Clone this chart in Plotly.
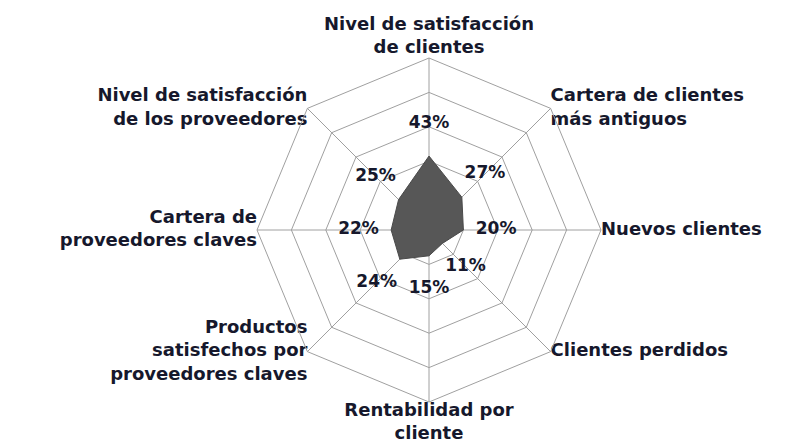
import plotly.graph_objects as go

categorias = [
    "Nivel de satisfacción<br>de clientes",
    "Cartera de clientes<br>más antiguos",
    "Nuevos clientes",
    "Clientes perdidos",
    "Rentabilidad por<br>cliente",
    "Productos<br>satisfechos por<br>proveedores claves",
    "Cartera de<br>proveedores claves",
    "Nivel de satisfacción<br>de los proveedores",
]
valores = [0.43, 0.27, 0.20, 0.11, 0.15, 0.24, 0.22, 0.25]
etiquetas = ["43%", "27%", "20%", "11%", "15%", "24%", "22%", "25%"]

# donde se pone cada nombre de eje respecto al vertice exterior
posicion_nombres = ["top center", "middle right", "middle right", "middle right",
                    "bottom center", "middle left", "middle left", "middle left"]

texto_color = "#16182c"
grid_color = "#a0a0a0"
fuente = "DejaVu Sans"

fig = go.Figure()

# area rellena
fig.add_trace(go.Scatterpolar(
    r=valores + valores[:1],
    theta=categorias + categorias[:1],
    mode="lines",
    fill="toself",
    fillcolor="#575757",
    line=dict(color="#4a4a4a", width=1),
    hoverinfo="skip",
))

# porcentajes, un poco por fuera de cada vertice
fig.add_trace(go.Scatterpolar(
    r=[v + 0.19 for v in valores],
    theta=categorias,
    mode="text",
    text=etiquetas,
    textfont=dict(family=fuente, size=17, color=texto_color, weight="bold"),
    hoverinfo="skip",
))

# nombres de los ejes en el borde exterior
fig.add_trace(go.Scatterpolar(
    r=[1.0] * len(categorias),
    theta=categorias,
    mode="text",
    text=categorias,
    textposition=posicion_nombres,
    textfont=dict(family=fuente, size=18, color=texto_color, weight="bold"),
    cliponaxis=False,
    hoverinfo="skip",
))

# la pagina tiene 8px de margen en el body, se compensa aqui
fig.update_layout(
    width=805, height=446,
    margin=dict(l=92, r=55, t=50, b=52),
    paper_bgcolor="white",
    showlegend=False,
    polar=dict(
        bgcolor="white",
        gridshape="linear",
        radialaxis=dict(
            range=[0, 1], dtick=0.2, showticklabels=False, ticks="",
            showline=False, gridcolor=grid_color, gridwidth=1,
        ),
        angularaxis=dict(
            direction="clockwise", rotation=90,
            showline=True, linecolor=grid_color, linewidth=1,
            gridcolor=grid_color, gridwidth=1,
            showticklabels=False, ticks="",
        ),
    ),
)

fig.write_html("out.html")
